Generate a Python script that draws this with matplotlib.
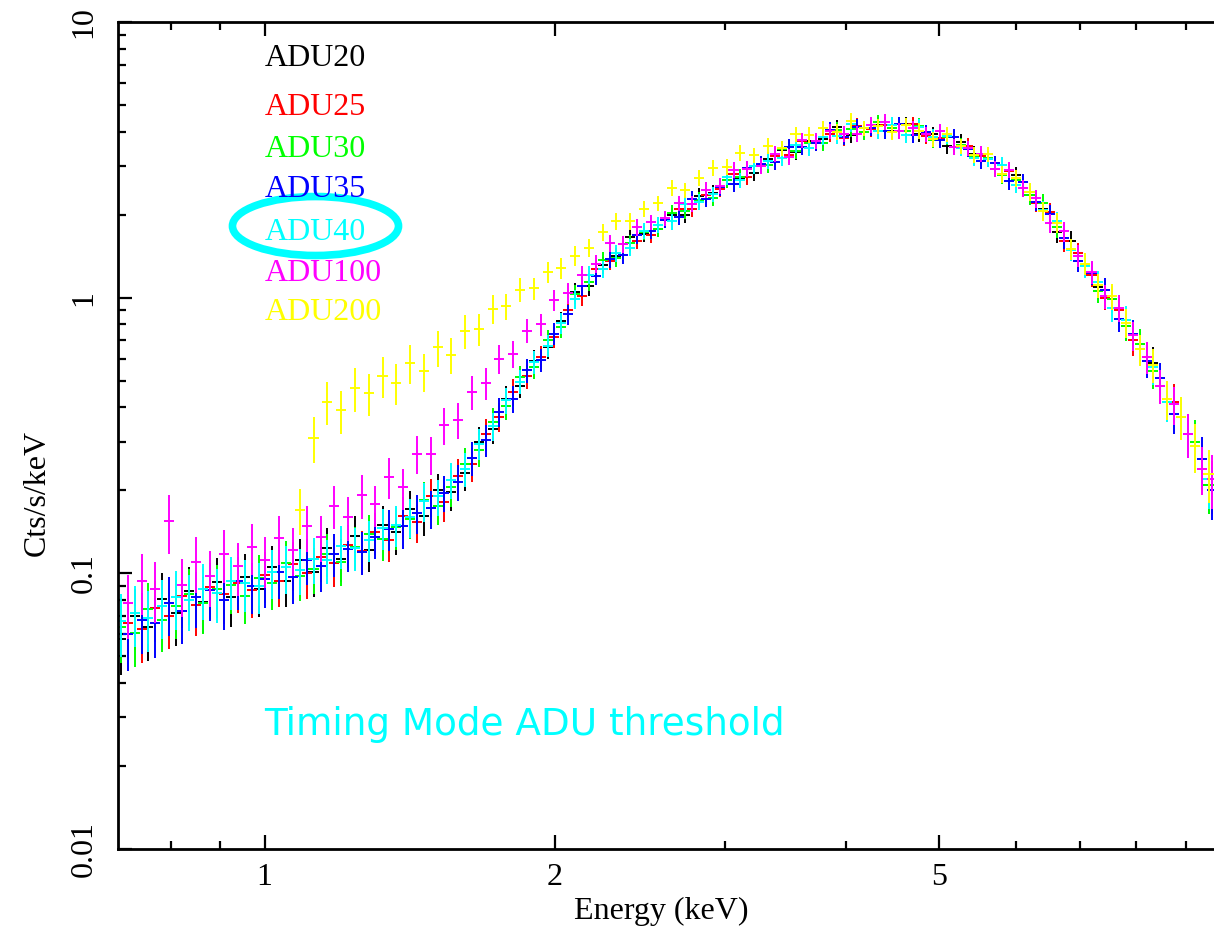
import numpy as np
import matplotlib.pyplot as plt
from matplotlib.patches import Ellipse
from matplotlib.ticker import FixedLocator, NullFormatter

# bin centres (keV), two interleaved channel grids
energy_a = [0.710, 0.734, 0.758, 0.783, 0.809, 0.836, 0.864, 0.893, 0.923, 0.954,
            0.986, 1.019, 1.053, 1.088, 1.124, 1.162, 1.201, 1.241, 1.282, 1.325,
            1.369, 1.415, 1.462, 1.511, 1.561, 1.613, 1.667, 1.723, 1.780, 1.840,
            1.901, 1.965, 2.030, 2.098, 2.168, 2.241, 2.315, 2.393, 2.473, 2.555,
            2.641, 2.729, 2.820, 2.914, 3.011, 3.112, 3.216, 3.323, 3.434, 3.549,
            3.667, 3.790, 3.916, 4.047, 4.182, 4.322, 4.466, 4.615, 4.769, 4.928,
            5.093, 5.263, 5.438, 5.620, 5.808, 6.002, 6.202, 6.409, 6.623, 6.844,
            7.073, 7.309, 7.553, 7.805, 8.066, 8.335, 8.613, 8.901, 9.198, 9.505]
energy_b = [0.722, 0.746, 0.770, 0.796, 0.822, 0.850, 0.878, 0.908, 0.938, 0.970,
            1.002, 1.036, 1.070, 1.106, 1.143, 1.181, 1.221, 1.261, 1.303, 1.347,
            1.392, 1.438, 1.486, 1.536, 1.587, 1.640, 1.695, 1.751, 1.810, 1.870,
            1.933, 1.997, 2.064, 2.133, 2.204, 2.278, 2.354, 2.433, 2.514, 2.598,
            2.685, 2.774, 2.867, 2.962, 3.061, 3.164, 3.269, 3.378, 3.491, 3.608,
            3.728, 3.853, 3.981, 4.114, 4.252, 4.394, 4.540, 4.692, 4.848, 5.010,
            5.177, 5.350, 5.529, 5.714, 5.905, 6.102, 6.305, 6.516, 6.733, 6.958,
            7.190, 7.430, 7.678, 7.935, 8.200, 8.473, 8.756, 9.049, 9.351, 9.580]

# relative 1-sigma error per bin
err_frac = [0.26, 0.25, 0.25, 0.24, 0.24, 0.23, 0.23, 0.22, 0.22, 0.21,
            0.21, 0.20, 0.20, 0.19, 0.19, 0.18, 0.18, 0.18, 0.17, 0.17,
            0.17, 0.16, 0.16, 0.15, 0.15, 0.14, 0.13, 0.12, 0.11, 0.10,
            0.095, 0.09, 0.085, 0.08, 0.075, 0.07, 0.07, 0.07, 0.065, 0.065,
            0.065, 0.065, 0.065, 0.065, 0.065, 0.065, 0.065, 0.065, 0.065, 0.065,
            0.065, 0.065, 0.065, 0.065, 0.065, 0.065, 0.065, 0.065, 0.065, 0.065,
            0.065, 0.065, 0.065, 0.065, 0.07, 0.07, 0.075, 0.08, 0.085, 0.09,
            0.095, 0.10, 0.11, 0.12, 0.13, 0.14, 0.16, 0.18, 0.20, 0.22]

# Cts/s/keV
adu20 = [0.058, 0.070, 0.064, 0.081, 0.072, 0.086, 0.079, 0.093, 0.082, 0.097,
         0.088, 0.105, 0.094, 0.112, 0.101, 0.124, 0.113, 0.137, 0.122, 0.150,
         0.141, 0.171, 0.162, 0.200, 0.198, 0.232, 0.300, 0.335, 0.430, 0.480,
         0.590, 0.660, 0.820, 1.05, 1.10, 1.31, 1.42, 1.66, 1.70, 1.77,
         1.99, 2.00, 2.34, 2.40, 2.68, 2.72, 2.83, 3.18, 3.43, 3.38,
         3.69, 3.76, 4.15, 3.89, 4.12, 4.23, 4.03, 4.26, 3.92, 3.92,
         3.56, 3.68, 3.32, 3.18, 2.81, 2.78, 2.35, 2.10, 1.73, 1.60,
         1.31, 1.09, 0.99, 0.79, 0.65, 0.58, 0.42, 0.37, 0.29, 0.21]
adu25 = [0.066, 0.063, 0.075, 0.070, 0.083, 0.077, 0.089, 0.084, 0.092, 0.087,
         0.099, 0.094, 0.108, 0.100, 0.115, 0.109, 0.127, 0.121, 0.141, 0.132,
         0.162, 0.153, 0.190, 0.181, 0.226, 0.250, 0.320, 0.370, 0.455, 0.520,
         0.610, 0.720, 0.900, 1.01, 1.27, 1.36, 1.56, 1.61, 1.69, 1.92,
         2.10, 2.10, 2.35, 2.48, 2.82, 2.75, 3.03, 3.27, 3.29, 3.70,
         3.65, 3.91, 3.80, 4.20, 4.10, 4.23, 4.01, 4.25, 3.86, 3.81,
         3.51, 3.56, 3.26, 2.92, 2.89, 2.49, 2.21, 2.05, 1.60, 1.45,
         1.21, 1.00, 0.90, 0.70, 0.61, 0.48, 0.42, 0.32, 0.24, 0.21]
adu30 = [0.064, 0.061, 0.074, 0.068, 0.076, 0.084, 0.078, 0.088, 0.091, 0.083,
         0.096, 0.092, 0.109, 0.098, 0.104, 0.118, 0.110, 0.125, 0.139, 0.133,
         0.147, 0.158, 0.185, 0.176, 0.205, 0.250, 0.280, 0.355, 0.405, 0.515,
         0.560, 0.700, 0.780, 1.03, 1.14, 1.37, 1.39, 1.58, 1.73, 1.77,
         2.03, 2.06, 2.27, 2.30, 2.68, 2.75, 3.01, 3.03, 3.47, 3.41,
         3.65, 3.65, 4.07, 4.09, 4.00, 4.32, 4.11, 4.02, 4.20, 3.72,
         3.83, 3.57, 3.25, 3.21, 2.78, 2.68, 2.35, 2.21, 1.80, 1.50,
         1.33, 1.06, 0.99, 0.79, 0.68, 0.54, 0.42, 0.37, 0.30, 0.21]
adu35 = [0.060, 0.068, 0.066, 0.078, 0.073, 0.082, 0.087, 0.080, 0.094, 0.090,
         0.095, 0.101, 0.097, 0.112, 0.106, 0.118, 0.123, 0.120, 0.136, 0.145,
         0.148, 0.166, 0.172, 0.196, 0.215, 0.262, 0.305, 0.385, 0.430, 0.545,
         0.595, 0.740, 0.870, 1.10, 1.20, 1.38, 1.43, 1.69, 1.74, 1.92,
         1.96, 2.28, 2.28, 2.51, 2.58, 2.95, 3.06, 3.11, 3.53, 3.52,
         3.65, 4.06, 3.84, 4.16, 4.14, 4.03, 4.25, 3.89, 3.98, 3.73,
         3.84, 3.46, 3.13, 3.07, 2.64, 2.62, 2.23, 2.01, 1.64, 1.36,
         1.23, 1.07, 0.84, 0.74, 0.59, 0.51, 0.38, 0.32, 0.26, 0.20]
adu40 = [0.067, 0.072, 0.069, 0.076, 0.082, 0.080, 0.088, 0.085, 0.094, 0.092,
         0.090, 0.101, 0.105, 0.103, 0.113, 0.112, 0.126, 0.124, 0.132, 0.146,
         0.150, 0.160, 0.183, 0.190, 0.218, 0.240, 0.295, 0.342, 0.425, 0.495,
         0.585, 0.670, 0.810, 0.99, 1.21, 1.27, 1.45, 1.52, 1.75, 1.84,
         1.89, 2.18, 2.23, 2.37, 2.73, 2.67, 3.01, 3.12, 3.20, 3.58,
         3.50, 3.84, 3.87, 4.25, 4.12, 4.03, 4.23, 3.90, 4.16, 3.84,
         3.86, 3.50, 3.22, 3.18, 3.02, 2.57, 2.42, 2.08, 1.89, 1.49,
         1.30, 1.14, 0.92, 0.83, 0.65, 0.56, 0.42, 0.37, 0.29, 0.22]
adu100 = [0.078, 0.094, 0.088, 0.155, 0.091, 0.110, 0.098, 0.118, 0.106, 0.125,
          0.112, 0.134, 0.122, 0.148, 0.136, 0.176, 0.160, 0.192, 0.178, 0.224,
          0.205, 0.272, 0.270, 0.345, 0.360, 0.455, 0.490, 0.600, 0.625, 0.760,
          0.800, 0.980, 1.04, 1.21, 1.33, 1.58, 1.56, 1.80, 1.88, 1.94,
          2.20, 2.19, 2.46, 2.55, 2.91, 2.94, 3.01, 3.33, 3.25, 3.72,
          3.70, 4.01, 3.94, 3.94, 4.24, 4.34, 4.03, 4.11, 3.92, 4.02,
          3.53, 3.48, 3.32, 2.94, 2.91, 2.49, 2.29, 1.87, 1.74, 1.42,
          1.24, 1.01, 0.92, 0.73, 0.61, 0.48, 0.41, 0.32, 0.24, 0.22]
# ADU200 has no counts below ~1.09 keV (starts at energy_a[13])
adu200 = [0.17, 0.31, 0.42, 0.39, 0.47, 0.45, 0.52, 0.49, 0.58, 0.54,
          0.66, 0.62, 0.76, 0.77, 0.91, 0.93, 1.07, 1.08, 1.24, 1.28,
          1.42, 1.52, 1.73, 1.89, 1.89, 2.10, 2.20, 2.50, 2.45, 2.72,
          2.96, 2.98, 3.35, 3.29, 3.56, 3.48, 3.91, 3.89, 4.11, 4.00,
          4.39, 4.12, 4.18, 3.98, 4.22, 4.04, 3.76, 3.91, 3.54, 3.30,
          3.31, 2.80, 2.72, 2.42, 2.06, 1.87, 1.50, 1.33, 1.11, 1.01,
          0.81, 0.65, 0.57, 0.43, 0.37, 0.29, 0.23]

labels = ['ADU20', 'ADU25', 'ADU30', 'ADU35', 'ADU40', 'ADU100', 'ADU200']
colors = ['#000000', '#ff0000', '#00ff00', '#0000ff', '#00ffff', '#ff00ff', '#ffff00']

series = [(energy_a, adu20, err_frac),
          (energy_b, adu25, err_frac),
          (energy_a, adu30, err_frac),
          (energy_b, adu35, err_frac),
          (energy_a, adu40, err_frac),
          (energy_b, adu100, err_frac),
          (energy_a[13:], adu200, err_frac[13:])]

serif = 'Liberation Serif'
fs = 23

fig = plt.figure(figsize=(12.14, 9.31), dpi=100)
ax = fig.add_axes([118/1214, 1-849/931, 1-118/1214, (849-22)/931])

for (en, val, ef), col in zip(series, colors):
    en = np.array(en)
    val = np.array(val)
    ef = np.array(ef)
    ax.errorbar(en, val, yerr=val*ef, xerr=en*0.012, fmt='none',
                ecolor=col, elinewidth=1.4, capsize=0)

ax.set_xscale('log')
ax.set_yscale('log')
ax.set_xlim(0.705, 9.63)
ax.set_ylim(0.01, 10)

ax.xaxis.set_major_locator(FixedLocator([1, 2, 5]))
ax.xaxis.set_minor_locator(FixedLocator([0.8, 0.9, 3, 4, 6, 7, 8, 9]))
ax.set_xticklabels(['1', '2', '5'], fontfamily=serif, fontsize=fs)
ax.xaxis.set_minor_formatter(NullFormatter())

ax.yaxis.set_major_locator(FixedLocator([0.01, 0.1, 1, 10]))
ax.yaxis.set_minor_locator(FixedLocator([k*10.0**d for d in (-2, -1, 0) for k in range(2, 10)]))
ax.set_yticklabels(['0.01', '0.1', '1', '10'], fontfamily=serif, fontsize=fs,
                   rotation=90, va='center')
ax.yaxis.set_minor_formatter(NullFormatter())

ax.tick_params(which='both', direction='in', top=True, right=False, width=1.6)
ax.tick_params(which='major', length=10)
ax.tick_params(which='minor', length=6)
ax.tick_params(axis='x', pad=10)
ax.tick_params(axis='y', pad=14)

for s in ['left', 'top', 'bottom']:
    ax.spines[s].set_linewidth(2)
ax.spines['right'].set_visible(False)

fig.text(37/1214, 1-493/931, 'Cts/s/keV', rotation=90, ha='center', va='center',
         fontfamily=serif, fontsize=fs)
fig.text(661/1214, 1-911/931, 'Energy (keV)', ha='center', va='center',
         fontfamily=serif, fontsize=fs)

# threshold labels
label_y = [0.9468, 0.8876, 0.8368, 0.7884, 0.7364, 0.6868, 0.6397]
for lab, col, yy in zip(labels, colors, label_y):
    ax.text(0.1341, yy, lab, color=col, transform=ax.transAxes, ha='left',
            va='baseline', fontfamily=serif, fontsize=fs)

ax.add_patch(Ellipse((0.1802, 0.7533), 0.1515, 0.0713, transform=ax.transAxes,
                     fill=False, edgecolor='#00ffff', lw=5.5))

ax.text(1.0, 0.026, 'Timing Mode ADU threshold', color='#00ffff',
        fontfamily='DejaVu Sans', fontsize=26.9, ha='left', va='baseline')

fig.savefig('out.png', dpi=100, facecolor='white')
